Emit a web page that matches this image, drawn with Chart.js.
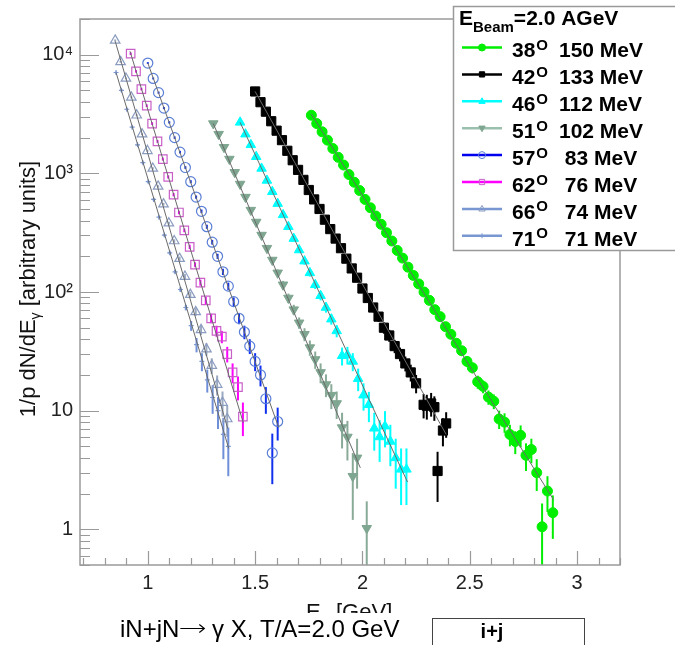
<!DOCTYPE html>
<html>
<head>
<meta charset="utf-8">
<script src="https://cdn.jsdelivr.net/npm/chart.js@4.4.1/dist/chart.umd.min.js"></script>
<style>
  html, body { margin: 0; padding: 0; background: #fff; }
  #wrap { width: 675px; height: 645px; }
</style>
</head>
<body>
<div id="wrap"><canvas id="c" width="675" height="645"></canvas></div>
<script>
// legend texts
const angles = ['38', '42', '46', '51', '57', '62', '66', '71'];
const tempText = ['150 MeV', '133 MeV', '112 MeV', '102 MeV', ' 83 MeV', ' 76 MeV', ' 74 MeV', ' 71 MeV'];

// axis ticks
const xTicks = [1, 1.5, 2, 2.5, 3];
const yTicks = [1, 10, 100, 1000, 10000];
const yLabels = ['1', '10', '10²', '10³', '10⁴'];

// 38 deg
const e38 = [1.762,1.787,1.812,1.837,1.862,1.887,1.912,1.937,1.962,1.987,
  2.012,2.037,2.062,2.087,2.112,2.137,2.162,2.187,2.212,2.237,
  2.262,2.287,2.312,2.337,2.362,2.387,2.412,2.437,2.462,2.487,
  2.512,2.537,2.562,2.587,2.612,2.637,2.662,2.687,2.712,2.737,
  2.762,2.787,2.812,2.837,2.862,2.887];
const y38 = [3090,2630,2240,1905,1620,1365,1175,977,841,716,
  603,513,437,372,316,269,224,193,162,138,
  117,100,85,71,62,51,44,37,32,26,
  23,17.5,16,13,12,8.5,8,6.3,5.5,6.2,
  4.2,4.7,3.0,1.05,2.1,1.38];
const d38 = [60,55,50,45,40,35,32,28,25,22,
  20,18,16,14,13,12,10,9,8,7,
  6.5,6,5.5,5,4.5,4,3.6,3.2,3,2.6,
  2.4,2.2,2,1.8,1.7,1.5,1.5,1.3,1.2,1.3,
  1.1,1.1,0.9,0.6,0.7,0.55];

// 42 deg
const e42 = [1.500,1.525,1.550,1.575,1.600,1.625,1.650,1.675,1.700,1.725,
  1.750,1.775,1.800,1.825,1.850,1.875,1.900,1.925,1.950,1.975,
  2.000,2.025,2.050,2.075,2.100,2.125,2.150,2.175,2.200,2.225,
  2.250,2.285,2.300,2.320,2.335,2.350,2.375,2.390];
const y42 = [4900,3980,3310,2750,2290,1905,1550,1290,1070,881,
  724,603,501,407,339,282,234,191,158,132,
  107,89,74,62,50,43,35,30,25,21,
  17,11.2,11,11.5,10.7,3.1,6.8,7.8];
const d42 = [70,60,55,50,45,40,35,30,28,25,
  22,20,18,16,15,13,12,11,10,9,
  8,7,6.5,6,5.5,5,4.5,4,3.6,3.4,
  3,2.6,2.6,2.6,2.5,1.4,1.8,1.9];

// 46 deg
const e46 = [1.430,1.455,1.480,1.505,1.530,1.555,1.580,1.605,1.630,1.655,
  1.680,1.705,1.730,1.755,1.780,1.805,1.830,1.855,1.880,1.905,
  1.930,1.955,1.980,2.005,2.030,2.055,2.080,2.105,2.130,2.155,
  2.180,2.205];
const y46 = [2690,2140,1740,1380,1100,871,700,556,447,355,
  282,226,182,145,115,93,74,59,47,29,
  29.5,26,18.6,13.5,11.2,7.1,6.0,7.4,5.5,4.0,
  3.2,3.2];
const d46 = [50,45,40,35,30,27,24,21,19,17,
  15,13,12,10,9,8,7,6,5.5,5,
  5,4.5,4,3.5,3.2,2.5,2.3,2.5,2.1,1.8,
  1.6,1.6];

// 51 deg
const e51 = [1.305,1.330,1.355,1.380,1.405,1.430,1.455,1.480,1.505,1.530,
  1.555,1.580,1.605,1.630,1.655,1.680,1.705,1.730,1.755,1.780,
  1.805,1.830,1.855,1.880,1.905,1.930,1.955,1.975,2.020];
const y51 = [2630,2140,1660,1320,1020,813,631,490,389,302,
  234,186,145,115,89,71,55,44,34,27,
  21,16.6,13.5,11.5,7.2,6.0,2.8,4.0,1.02];
const d51 = [50,45,38,33,29,25,22,19,17,15,
  13,11,10,9,8,7,6,5.5,5,4.5,
  4,3.6,3.2,3,2.4,2.2,1.6,1.8,0.7];

// 57 deg
const e57 = [1.000,1.025,1.050,1.075,1.100,1.125,1.150,1.175,1.200,1.225,
  1.250,1.275,1.300,1.325,1.350,1.375,1.400,1.425,1.450,1.475,
  1.500,1.525,1.550,1.580,1.605];
const y57 = [8510,6310,4790,3550,2690,2000,1510,1120,851,631,
  479,355,263,200,148,112,83,60,46,35,
  26,20,12.6,4.4,8.1];
const d57 = [150,120,95,75,60,48,38,30,25,20,
  17,14,12,10,9,8,7,6.5,6,5,
  4.5,4,3.2,2.0,2.5];

// 62 deg
const e62 = [0.920,0.945,0.970,0.995,1.020,1.045,1.070,1.095,1.120,1.145,
  1.170,1.195,1.220,1.245,1.270,1.295,1.320,1.345,1.370,1.395,
  1.420,1.443];
const y62 = [10200,7240,5130,3720,2630,1860,1320,933,661,468,
  331,240,170,120,85,60,47,42,30,21,
  15.8,8.9];
const d62 = [250,180,130,95,70,50,38,28,21,16,
  12,10,8,7,6,5.5,5,5,4.5,4,
  3.6,2.8];

// 66 deg
const e66 = [0.848,0.873,0.898,0.923,0.948,0.973,0.998,1.023,1.048,1.073,
  1.098,1.123,1.148,1.173,1.198,1.223,1.248,1.273,1.298,1.323,
  1.348,1.370];
const y66 = [13200,8710,6310,4370,3090,2140,1550,1100,776,550,
  380,269,191,135,95,68,48,33,24,16.6,
  11.7,8.5];
const d66 = [250,170,120,85,60,45,33,25,19,14,
  11,9,7.5,6.5,5.5,5,4.5,4,3.6,3.2,
  2.8,2.5];

// 71 deg
const e71 = [0.852,0.877,0.902,0.927,0.952,0.977,1.002,1.027,1.052,1.077,
  1.102,1.127,1.152,1.177,1.202,1.227,1.252,1.277,1.302,1.327,
  1.352,1.375];
const y71 = [7080,5010,3470,2450,1740,1230,851,603,427,302,
  214,148,105,74,52,36,26,18.2,12.9,10,
  6.3,5.0];
const d71 = [140,100,70,50,36,26,19,14,10,7.5,
  6,5,4.5,4,5,5,4.5,4,3.5,3,
  2.4,2.2];

// exponential fits, start and end points
const fitX0 = [1.762, 1.500, 1.430, 1.305, 1.000, 0.917, 0.848, 0.852];
const fitX1 = [2.890, 2.390, 2.210, 1.990, 1.610, 1.445, 1.372, 1.377];
const fitY0 = [3160, 4900, 2690, 2630, 8510, 10700, 13000, 7080];
const fitY1 = [1.78, 6.3, 2.5, 3.3, 7.2, 7.9, 7.1, 4.8];

const allE = [e38, e42, e46, e51, e57, e62, e66, e71];
const allY = [y38, y42, y46, y51, y57, y62, y66, y71];
const allD = [d38, d42, d46, d51, d57, d62, d66, d71];

// styles
const pStyle = ['circle', 'rect', 'triangle', 'triangle', 'circle', 'rect', 'triangle', 'cross'];
const pRot = [0, 0, 0, 180, 0, 0, 0, 0];
const pRad = [5, 6.5, 5.5, 5.5, 5, 6, 5.5, 2.5];
const pFill = ['#00ee00', '#000000', '#00ffff', '#7fa690', 'rgba(0,0,0,0)', 'rgba(0,0,0,0)', 'rgba(0,0,0,0)', 'rgba(0,0,0,0)'];
const pEdge = ['#00ee00', '#000000', '#00ffff', '#7fa690', '#5b7fd6', '#c860c8', '#8a9cc0', '#7b98d0'];
const barCol = ['#00ee00', '#000000', '#00ffff', '#8aaa98', '#1030f0', '#ff00ff', '#9aa8c0', '#6f8fd8'];
const legCol = ['#00ee00', '#000000', '#00ffff', '#9bbfae', '#0000ee', '#ff00ff', '#7896d2', '#7896d2'];

const FONT = "'Liberation Sans', Arial, sans-serif";

const datasets = [];
for (let i = 0; i < 8; i++) {
  datasets.push({
    label: angles[i],
    data: allE[i].map((x, k) => ({ x: x, y: allY[i][k] })),
    errs: allD[i],
    barColor: barCol[i],
    showLine: false,
    pointStyle: pStyle[i],
    pointRotation: pRot[i],
    pointRadius: pRad[i],
    pointBackgroundColor: pFill[i],
    pointBorderColor: pEdge[i],
    pointBorderWidth: i < 4 ? 1 : 1.2,
    order: 1
  });
}
for (let i = 0; i < 8; i++) {
  datasets.push({
    label: 'fit' + angles[i],
    data: [{ x: fitX0[i], y: fitY0[i] }, { x: fitX1[i], y: fitY1[i] }],
    showLine: true,
    borderColor: '#6a6a6a',
    borderWidth: 1,
    pointRadius: 0,
    order: 0
  });
}

function marker(ctx, i, x, y, r) {
  ctx.save();
  ctx.fillStyle = pFill[i];
  ctx.strokeStyle = pEdge[i];
  ctx.lineWidth = 1;
  ctx.beginPath();
  const st = pStyle[i];
  if (st === 'circle') {
    ctx.arc(x, y, r, 0, Math.PI * 2);
  } else if (st === 'rect') {
    ctx.rect(x - r * 0.75, y - r * 0.75, r * 1.5, r * 1.5);
  } else if (st === 'triangle') {
    const s = pRot[i] ? -1 : 1;
    ctx.moveTo(x, y - s * r);
    ctx.lineTo(x + r * 0.9, y + s * r * 0.6);
    ctx.lineTo(x - r * 0.9, y + s * r * 0.6);
    ctx.closePath();
  } else {
    ctx.moveTo(x - r, y); ctx.lineTo(x + r, y);
    ctx.moveTo(x, y - r); ctx.lineTo(x, y + r);
  }
  ctx.fill();
  ctx.stroke();
  ctx.restore();
}

const errorBars = {
  id: 'errorBars',
  beforeDatasetsDraw(chart) {
    const { ctx, chartArea: a, scales: { x, y } } = chart;
    ctx.save();
    ctx.beginPath();
    ctx.rect(a.left, a.top, a.right - a.left, a.bottom - a.top);
    ctx.clip();
    chart.data.datasets.forEach(ds => {
      if (!ds.errs) return;
      ctx.strokeStyle = ds.barColor;
      ctx.lineWidth = 2;
      ds.data.forEach((p, k) => {
        const px = x.getPixelForValue(p.x);
        const lo = Math.max(p.y - ds.errs[k], 0.01);
        ctx.beginPath();
        ctx.moveTo(px, y.getPixelForValue(p.y + ds.errs[k]));
        ctx.lineTo(px, y.getPixelForValue(lo));
        ctx.stroke();
      });
    });
    ctx.restore();
  }
};

const decor = {
  id: 'decor',
  beforeDraw(chart) {
    const ctx = chart.ctx;
    ctx.save();
    ctx.fillStyle = '#fff';
    ctx.fillRect(0, 0, chart.width, chart.height);
    ctx.restore();
  },
  afterDraw(chart) {
    const { ctx, chartArea: a, scales: { x, y } } = chart;
    ctx.save();

    // frame and ticks
    ctx.strokeStyle = '#9a9a9a';
    ctx.lineWidth = 1.5;
    ctx.strokeRect(a.left, a.top, a.right - a.left, a.bottom - a.top);
    ctx.lineWidth = 1.2;
    ctx.beginPath();
    for (let k = 7; k <= 32; k++) {
      const px = Math.round(x.getPixelForValue(k / 10)) + 0.5;
      const len = k % 5 === 0 ? 14 : 7;
      ctx.moveTo(px, a.bottom);
      ctx.lineTo(px, a.bottom - len);
    }
    for (let dec = -1; dec <= 4; dec++) {
      for (let m = 1; m <= 9; m++) {
        const v = m * Math.pow(10, dec);
        if (v < 0.5 || v > 20000) continue;
        const py = Math.round(y.getPixelForValue(v)) + 0.5;
        const len = m === 1 ? 19 : 10;
        ctx.moveTo(a.left, py);
        ctx.lineTo(a.left + len, py);
      }
    }
    ctx.stroke();

    // legend box
    ctx.fillStyle = '#fff';
    ctx.fillRect(453, 6, 230, 245);
    ctx.strokeStyle = '#9a9a9a';
    ctx.lineWidth = 1.5;
    ctx.strokeRect(453.5, 6.5, 240, 244);

    ctx.fillStyle = '#000';
    ctx.textBaseline = 'alphabetic';
    ctx.textAlign = 'left';
    ctx.font = 'bold 21px ' + FONT;
    ctx.fillText('E', 459, 25);
    let tx = 459 + ctx.measureText('E').width;
    ctx.font = 'bold 15px ' + FONT;
    ctx.fillText('Beam', tx, 31.5);
    tx += ctx.measureText('Beam').width;
    ctx.font = 'bold 21px ' + FONT;
    ctx.fillText('=2.0 AGeV', tx, 25);

    for (let i = 0; i < 8; i++) {
      const ly = 47.5 + 26.9 * i;
      ctx.strokeStyle = legCol[i];
      ctx.lineWidth = 2.5;
      ctx.beginPath();
      ctx.moveTo(462, ly);
      ctx.lineTo(502, ly);
      ctx.stroke();
      marker(ctx, i, 482, ly, i === 7 ? 2.5 : 3.5);
      ctx.fillStyle = '#000';
      ctx.font = 'bold 21px ' + FONT;
      ctx.fillText(angles[i], 512, ly + 9.8);
      const w = ctx.measureText(angles[i]).width;
      ctx.font = 'bold 15px ' + FONT;
      ctx.fillText('O', 512 + w + 1, ly + 2.5);
      ctx.font = 'bold 21px ' + FONT;
      ctx.fillText(tempText[i], 559, ly + 9.8);
    }

    // y title
    ctx.save();
    ctx.translate(35, 289);
    ctx.rotate(-Math.PI / 2);
    ctx.fillStyle = '#111';
    ctx.font = '22px ' + FONT;
    const t1 = '1/p dN/dE', t3 = ' [arbitrary units]';
    const w1 = ctx.measureText(t1).width, w3 = ctx.measureText(t3).width;
    ctx.font = '14px ' + FONT;
    const w2 = ctx.measureText('γ').width;
    let sx = -(w1 + w2 + w3) / 2;
    ctx.font = '22px ' + FONT;
    ctx.fillText(t1, sx, 0);
    ctx.font = '14px ' + FONT;
    ctx.fillText('γ', sx + w1, 5);
    ctx.font = '22px ' + FONT;
    ctx.fillText(t3, sx + w1 + w2, 0);
    ctx.restore();

    // x title (bottom part hidden by the caption strip)
    ctx.fillStyle = '#111';
    ctx.font = '22px ' + FONT;
    ctx.fillText('E', 306, 618.5);
    ctx.font = '14px ' + FONT;
    ctx.fillText('γ', 321, 623);
    ctx.font = '22px ' + FONT;
    ctx.fillText('[GeV]', 336, 618.5);
    ctx.fillStyle = '#fff';
    ctx.fillRect(0, 613, chart.width, chart.height - 613);

    // caption
    ctx.fillStyle = '#000';
    ctx.font = '24px ' + FONT;
    const c1 = 'iN+jN';
    ctx.fillText(c1, 120, 636.5);
    let cx = 120 + ctx.measureText(c1).width + 1;
    ctx.strokeStyle = '#000';
    ctx.lineWidth = 1.2;
    ctx.beginPath();
    ctx.moveTo(cx, 628.5); ctx.lineTo(cx + 24, 628.5);
    ctx.moveTo(cx + 19, 624.5); ctx.lineTo(cx + 24, 628.5); ctx.lineTo(cx + 19, 632.5);
    ctx.stroke();
    ctx.fillText(' γ X, T/A=2.0 GeV', cx + 25, 636.5);
    ctx.strokeStyle = '#444';
    ctx.lineWidth = 1;
    ctx.strokeRect(432.5, 618.5, 152, 40);
    ctx.font = 'bold 20px ' + FONT;
    ctx.textAlign = 'center';
    ctx.fillText('i+j', 492, 638);

    ctx.restore();
  }
};

new Chart(document.getElementById('c'), {
  type: 'scatter',
  data: { datasets: datasets },
  options: {
    responsive: false,
    animation: false,
    devicePixelRatio: 1,
    layout: { padding: { left: 0, right: 55, top: 16, bottom: 0 } },
    plugins: { legend: { display: false }, tooltip: { enabled: false } },
    scales: {
      x: {
        type: 'linear',
        min: 0.684,
        max: 3.2,
        grid: { display: false, drawTicks: false },
        border: { display: false },
        afterBuildTicks: s => { s.ticks = xTicks.map(v => ({ value: v })); },
        afterFit: s => { s.height = 80; },
        ticks: {
          autoSkip: false,
          maxRotation: 0,
          padding: 6,
          color: '#222',
          font: { family: FONT, size: 20 },
          callback: v => String(v)
        }
      },
      y: {
        type: 'logarithmic',
        min: 0.5,
        max: 20000,
        grid: { display: false, drawTicks: false },
        border: { display: false },
        afterBuildTicks: s => { s.ticks = yTicks.map(v => ({ value: v })); },
        afterFit: s => { s.width = 80; },
        ticks: {
          autoSkip: false,
          padding: 7,
          color: '#222',
          font: { family: FONT, size: 20 },
          callback: v => yLabels[yTicks.indexOf(v)]
        }
      }
    }
  },
  plugins: [errorBars, decor]
});
</script>
</body>
</html>
